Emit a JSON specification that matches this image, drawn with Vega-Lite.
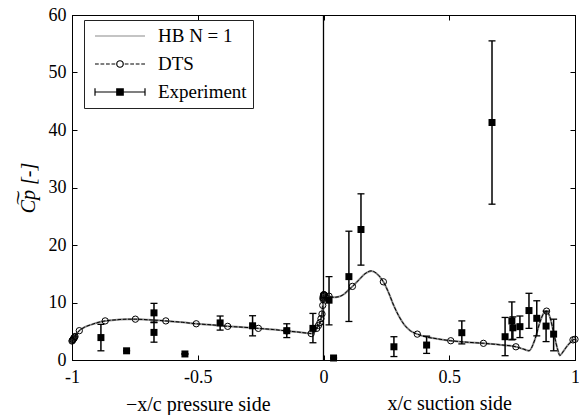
{
  "$schema": "https://vega.github.io/schema/vega-lite/v6.json",
  "width": 503,
  "height": 345,
  "autosize": {"type": "none"},
  "padding": {"left": 72, "top": 15, "right": 4, "bottom": 55},
  "background": "white",
  "config": {
    "font": "'Liberation Serif', 'DejaVu Serif', serif",
    "view": {"stroke": "black", "strokeWidth": 1},
    "axis": {
      "grid": false,
      "domainColor": "black",
      "tickColor": "black",
      "labelColor": "black",
      "titleColor": "black",
      "labelFont": "'Liberation Serif', 'DejaVu Serif', serif",
      "titleFont": "'Liberation Serif', 'DejaVu Serif', serif",
      "labelFontSize": 18,
      "titleFontSize": 20,
      "titleFontWeight": "normal",
      "tickSize": -5,
      "tickWidth": 1
    },
    "legend": {
      "orient": "none",
      "legendX": 12,
      "legendY": 5,
      "padding": 6,
      "strokeColor": "#222222",
      "fillColor": "white",
      "cornerRadius": 0,
      "clipHeight": 20,
      "rowPadding": 8,
      "symbolSize": 2500,
      "symbolStrokeWidth": 1.2,
      "symbolFillColor": "transparent",
      "symbolOffset": 4,
      "labelOffset": 12,
      "labelFont": "'Liberation Serif', 'DejaVu Serif', serif",
      "labelFontSize": 19,
      "labelColor": "black"
    }
  },
  "datasets": {
    "hb": [
      {"x": -1.0, "cp": 3.3}, {"x": -0.995, "cp": 3.5}, {"x": -0.985, "cp": 4.3}, {"x": -0.971, "cp": 5.1},
      {"x": -0.95, "cp": 5.7}, {"x": -0.92, "cp": 6.2}, {"x": -0.89, "cp": 6.6}, {"x": -0.868, "cp": 6.8},
      {"x": -0.82, "cp": 7.0}, {"x": -0.78, "cp": 7.1}, {"x": -0.748, "cp": 7.1}, {"x": -0.7, "cp": 7.0},
      {"x": -0.66, "cp": 6.9}, {"x": -0.627, "cp": 6.8}, {"x": -0.56, "cp": 6.55}, {"x": -0.506, "cp": 6.3},
      {"x": -0.44, "cp": 6.1}, {"x": -0.381, "cp": 5.85}, {"x": -0.32, "cp": 5.7}, {"x": -0.259, "cp": 5.5},
      {"x": -0.2, "cp": 5.3}, {"x": -0.146, "cp": 5.05}, {"x": -0.1, "cp": 4.85}, {"x": -0.06, "cp": 4.65},
      {"x": -0.049, "cp": 4.6}, {"x": -0.035, "cp": 4.9}, {"x": -0.027, "cp": 5.5}, {"x": -0.02, "cp": 6.0},
      {"x": -0.014, "cp": 6.5}, {"x": -0.01, "cp": 7.2}, {"x": -0.006, "cp": 8.0}, {"x": -0.003, "cp": 9.5},
      {"x": -0.001, "cp": 11.0}, {"x": 0.0, "cp": 11.3}, {"x": 0.005, "cp": 11.35}, {"x": 0.012, "cp": 11.3},
      {"x": 0.022, "cp": 11.1}, {"x": 0.04, "cp": 10.9}, {"x": 0.06, "cp": 11.0}, {"x": 0.08, "cp": 11.4},
      {"x": 0.1, "cp": 12.2}, {"x": 0.115, "cp": 12.8}, {"x": 0.14, "cp": 13.9}, {"x": 0.165, "cp": 15.0},
      {"x": 0.19, "cp": 15.5}, {"x": 0.21, "cp": 15.1}, {"x": 0.238, "cp": 13.6}, {"x": 0.26, "cp": 11.6},
      {"x": 0.28, "cp": 9.4}, {"x": 0.3, "cp": 7.6}, {"x": 0.32, "cp": 6.2}, {"x": 0.345, "cp": 5.1},
      {"x": 0.373, "cp": 4.5}, {"x": 0.41, "cp": 4.0}, {"x": 0.45, "cp": 3.7}, {"x": 0.506, "cp": 3.35},
      {"x": 0.57, "cp": 3.1}, {"x": 0.636, "cp": 2.9}, {"x": 0.7, "cp": 2.65}, {"x": 0.765, "cp": 2.3},
      {"x": 0.795, "cp": 1.9}, {"x": 0.817, "cp": 1.6}, {"x": 0.84, "cp": 3.5}, {"x": 0.86, "cp": 6.5},
      {"x": 0.875, "cp": 8.1}, {"x": 0.887, "cp": 8.5}, {"x": 0.9, "cp": 7.5}, {"x": 0.915, "cp": 4.8},
      {"x": 0.93, "cp": 2.0}, {"x": 0.94, "cp": 0.8}, {"x": 0.955, "cp": 1.6}, {"x": 0.97, "cp": 2.5},
      {"x": 0.985, "cp": 3.2}, {"x": 0.992, "cp": 3.5}, {"x": 1.0, "cp": 3.6}
    ],
    "dts": [
      {"x": -1.0, "cp": 3.3}, {"x": -0.995, "cp": 3.5}, {"x": -0.985, "cp": 4.3}, {"x": -0.971, "cp": 5.1},
      {"x": -0.95, "cp": 5.7}, {"x": -0.92, "cp": 6.2}, {"x": -0.89, "cp": 6.6}, {"x": -0.868, "cp": 6.8},
      {"x": -0.82, "cp": 7.0}, {"x": -0.78, "cp": 7.1}, {"x": -0.748, "cp": 7.1}, {"x": -0.7, "cp": 7.0},
      {"x": -0.66, "cp": 6.9}, {"x": -0.627, "cp": 6.8}, {"x": -0.56, "cp": 6.55}, {"x": -0.506, "cp": 6.3},
      {"x": -0.44, "cp": 6.1}, {"x": -0.381, "cp": 5.85}, {"x": -0.32, "cp": 5.7}, {"x": -0.259, "cp": 5.5},
      {"x": -0.2, "cp": 5.3}, {"x": -0.146, "cp": 5.05}, {"x": -0.1, "cp": 4.85}, {"x": -0.06, "cp": 4.65},
      {"x": -0.049, "cp": 4.6}, {"x": -0.035, "cp": 4.9}, {"x": -0.027, "cp": 5.5}, {"x": -0.02, "cp": 6.0},
      {"x": -0.014, "cp": 6.5}, {"x": -0.01, "cp": 7.2}, {"x": -0.006, "cp": 8.0}, {"x": -0.003, "cp": 9.5},
      {"x": -0.001, "cp": 11.0}, {"x": 0.0, "cp": 11.3}, {"x": 0.005, "cp": 11.35}, {"x": 0.012, "cp": 11.3},
      {"x": 0.022, "cp": 11.1}, {"x": 0.04, "cp": 10.9}, {"x": 0.06, "cp": 11.0}, {"x": 0.08, "cp": 11.4},
      {"x": 0.1, "cp": 12.2}, {"x": 0.115, "cp": 12.8}, {"x": 0.14, "cp": 13.9}, {"x": 0.165, "cp": 15.0},
      {"x": 0.19, "cp": 15.5}, {"x": 0.21, "cp": 15.1}, {"x": 0.238, "cp": 13.6}, {"x": 0.26, "cp": 11.6},
      {"x": 0.28, "cp": 9.4}, {"x": 0.3, "cp": 7.6}, {"x": 0.32, "cp": 6.2}, {"x": 0.345, "cp": 5.1},
      {"x": 0.373, "cp": 4.5}, {"x": 0.41, "cp": 4.0}, {"x": 0.45, "cp": 3.7}, {"x": 0.506, "cp": 3.35},
      {"x": 0.57, "cp": 3.1}, {"x": 0.636, "cp": 2.9}, {"x": 0.7, "cp": 2.65}, {"x": 0.765, "cp": 2.3},
      {"x": 0.795, "cp": 1.9}, {"x": 0.817, "cp": 1.6}, {"x": 0.84, "cp": 3.5}, {"x": 0.86, "cp": 6.5},
      {"x": 0.875, "cp": 8.1}, {"x": 0.887, "cp": 8.5}, {"x": 0.9, "cp": 7.5}, {"x": 0.915, "cp": 4.8},
      {"x": 0.93, "cp": 2.0}, {"x": 0.94, "cp": 0.8}, {"x": 0.955, "cp": 1.6}, {"x": 0.97, "cp": 2.5},
      {"x": 0.985, "cp": 3.2}, {"x": 0.992, "cp": 3.5}, {"x": 1.0, "cp": 3.6}
    ],
    "dtsNodes": [
      {"x": -1.0, "cp": 3.3}, {"x": -0.998, "cp": 3.42}, {"x": -0.996, "cp": 3.55}, {"x": -0.994, "cp": 3.68},
      {"x": -0.992, "cp": 3.8}, {"x": -0.99, "cp": 3.95}, {"x": -0.988, "cp": 4.1},
      {"x": -0.971, "cp": 5.1}, {"x": -0.868, "cp": 6.8}, {"x": -0.748, "cp": 7.1}, {"x": -0.627, "cp": 6.8},
      {"x": -0.506, "cp": 6.3}, {"x": -0.381, "cp": 5.85}, {"x": -0.259, "cp": 5.5}, {"x": -0.146, "cp": 5.05},
      {"x": -0.049, "cp": 4.6}, {"x": -0.027, "cp": 5.5}, {"x": -0.02, "cp": 6.0}, {"x": -0.014, "cp": 6.5},
      {"x": -0.01, "cp": 7.2}, {"x": -0.006, "cp": 8.0}, {"x": -0.003, "cp": 9.5},
      {"x": -0.002, "cp": 10.6}, {"x": -0.0015, "cp": 10.8}, {"x": -0.001, "cp": 11.0}, {"x": -0.0005, "cp": 11.15},
      {"x": 0.0, "cp": 11.3}, {"x": 0.001, "cp": 11.35}, {"x": 0.002, "cp": 11.35}, {"x": 0.004, "cp": 11.3},
      {"x": 0.022, "cp": 11.1}, {"x": 0.115, "cp": 12.8}, {"x": 0.238, "cp": 13.6}, {"x": 0.373, "cp": 4.5},
      {"x": 0.506, "cp": 3.35}, {"x": 0.636, "cp": 2.9}, {"x": 0.765, "cp": 2.3}, {"x": 0.887, "cp": 8.5},
      {"x": 0.992, "cp": 3.5}, {"x": 1.0, "cp": 3.6}
    ],
    "exp": [
      {"x": -0.885, "cp": 3.9, "lo": 1.6, "hi": 6.2},
      {"x": -0.783, "cp": 1.6, "lo": 1.6, "hi": 1.6},
      {"x": -0.674, "cp": 8.2, "lo": 6.6, "hi": 9.85},
      {"x": -0.674, "cp": 4.8, "lo": 3.1, "hi": 6.5},
      {"x": -0.551, "cp": 1.05, "lo": 1.05, "hi": 1.05},
      {"x": -0.411, "cp": 6.45, "lo": 5.2, "hi": 7.65},
      {"x": -0.282, "cp": 5.95, "lo": 4.2, "hi": 7.7},
      {"x": -0.146, "cp": 5.1, "lo": 3.9, "hi": 6.3},
      {"x": -0.042, "cp": 5.5, "lo": 3.0, "hi": 8.1},
      {"x": 0.022, "cp": 10.4, "lo": 6.1, "hi": 14.5},
      {"x": 0.04, "cp": 0.35, "lo": 0.35, "hi": 0.35},
      {"x": 0.101, "cp": 14.5, "lo": 6.7, "hi": 22.4},
      {"x": 0.149, "cp": 22.7, "lo": 16.5, "hi": 28.9},
      {"x": 0.28, "cp": 2.3, "lo": 0.6, "hi": 4.05},
      {"x": 0.41, "cp": 2.6, "lo": 1.15, "hi": 4.15},
      {"x": 0.55, "cp": 4.75, "lo": 2.8, "hi": 6.8},
      {"x": 0.67, "cp": 41.3, "lo": 27.1, "hi": 55.5},
      {"x": 0.722, "cp": 4.05, "lo": 0.75, "hi": 7.4},
      {"x": 0.749, "cp": 6.8, "lo": 3.5, "hi": 10.1},
      {"x": 0.753, "cp": 5.6, "lo": 3.6, "hi": 7.5},
      {"x": 0.781, "cp": 5.8, "lo": 3.9, "hi": 7.65},
      {"x": 0.817, "cp": 8.6, "lo": 5.5, "hi": 11.6},
      {"x": 0.848, "cp": 7.25, "lo": 4.2, "hi": 10.3},
      {"x": 0.885, "cp": 5.9, "lo": 3.2, "hi": 8.5},
      {"x": 0.915, "cp": 4.5, "lo": 1.6, "hi": 7.1}
    ],
    "series": [
      {"series": "HB N = 1"},
      {"series": "DTS"},
      {"series": "Experiment"}
    ]
  },
  "resolve": {"axis": {"x": "independent", "y": "independent"}},
  "layer": [
    {
      "data": {"values": [{"x": 0}]},
      "mark": {"type": "rule", "color": "black", "strokeWidth": 1.3},
      "encoding": {
        "x": {"field": "x", "type": "quantitative", "scale": {"domain": [-1, 1], "nice": false, "zero": false}, "axis": null}
      }
    },
    {
      "data": {"name": "hb"},
      "mark": {"type": "line", "color": "#8a8a8a", "strokeWidth": 2, "interpolate": "monotone"},
      "encoding": {
        "x": {
          "field": "x", "type": "quantitative",
          "scale": {"domain": [-1, 1], "nice": false, "zero": false},
          "axis": {
            "orient": "bottom",
            "values": [-1, -0.5, 0, 0.5, 1],
            "labelExpr": "'' + datum.value",
            "labelPadding": 13,
            "labelFlush": false,
            "title": "−x/c pressure side",
            "titleX": 125.75,
            "titleAlign": "center",
            "titleAnchor": null,
            "titlePadding": 8
          }
        },
        "y": {
          "field": "cp", "type": "quantitative",
          "scale": {"domain": [0, 60], "nice": false, "zero": false},
          "axis": {
            "orient": "left",
            "values": [0, 10, 20, 30, 40, 50, 60],
            "labelPadding": 11,
            "title": "C͠p [-]",
            "titleFontStyle": "italic",
            "titlePadding": 10
          }
        }
      }
    },
    {
      "data": {"name": "dts"},
      "mark": {"type": "line", "color": "black", "strokeWidth": 1, "strokeDash": [3.7, 1.6], "interpolate": "monotone"},
      "encoding": {
        "x": {
          "field": "x", "type": "quantitative",
          "scale": {"domain": [-1, 1], "nice": false, "zero": false},
          "axis": {"orient": "top", "values": [-1, -0.5, 0, 0.5, 1], "labels": false, "title": null}
        },
        "y": {
          "field": "cp", "type": "quantitative",
          "scale": {"domain": [0, 60], "nice": false, "zero": false},
          "axis": {"orient": "right", "values": [0, 10, 20, 30, 40, 50, 60], "labels": false, "title": null}
        }
      }
    },
    {
      "data": {"name": "dtsNodes"},
      "mark": {"type": "point", "shape": "circle", "filled": false, "color": "black", "strokeWidth": 1, "size": 40, "opacity": 1},
      "encoding": {
        "x": {"field": "x", "type": "quantitative", "scale": {"domain": [-1, 1], "nice": false, "zero": false}, "axis": null},
        "y": {"field": "cp", "type": "quantitative", "scale": {"domain": [0, 60], "nice": false, "zero": false}, "axis": null}
      }
    },
    {
      "data": {"name": "exp"},
      "mark": {"type": "errorbar", "color": "black", "thickness": 1.5, "opacity": 1, "ticks": {"size": 7, "color": "black", "opacity": 1, "thickness": 1.3}},
      "encoding": {
        "x": {"field": "x", "type": "quantitative", "scale": {"domain": [-1, 1], "nice": false, "zero": false}, "axis": null},
        "y": {"field": "lo", "type": "quantitative", "scale": {"domain": [0, 60], "nice": false, "zero": false}, "axis": null},
        "y2": {"field": "hi"}
      }
    },
    {
      "data": {"name": "exp"},
      "mark": {"type": "square", "color": "black", "filled": true, "size": 49, "opacity": 1},
      "encoding": {
        "x": {
          "field": "x", "type": "quantitative",
          "scale": {"domain": [-1, 1], "nice": false, "zero": false},
          "axis": {
            "orient": "bottom",
            "labels": false,
            "ticks": false,
            "domain": false,
            "title": "x/c suction side",
            "titleX": 377.25,
            "titleAlign": "center",
            "titleAnchor": null,
            "titlePadding": 33
          }
        },
        "y": {"field": "cp", "type": "quantitative", "scale": {"domain": [0, 60], "nice": false, "zero": false}, "axis": null}
      }
    },
    {
      "data": {"name": "series"},
      "mark": {"type": "point", "opacity": 0, "size": 2500, "filled": false},
      "encoding": {
        "shape": {
          "field": "series", "type": "nominal",
          "scale": {
            "domain": ["HB N = 1", "DTS", "Experiment"],
            "range": [
              "M-1,0H1",
              "M-1,0H-0.85M-0.78,0H-0.63M-0.56,0H-0.41M-0.34,0H-0.19M0.19,0H0.34M0.41,0H0.56M0.63,0H0.78M0.85,0H1M-0.13,0A0.13,0.13,0,1,0,0.13,0A0.13,0.13,0,1,0,-0.13,0Z",
              "M-1,0H1M-1,-0.15V0.15M1,-0.15V0.15M-0.13,-0.13H0.13V0.13H-0.13ZM-0.13,-0.09H0.13M-0.13,-0.05H0.13M-0.13,-0.01H0.13M-0.13,0.03H0.13M-0.13,0.07H0.13M-0.13,0.11H0.13"
            ]
          },
          "legend": {"title": null}
        },
        "stroke": {
          "field": "series", "type": "nominal",
          "scale": {"domain": ["HB N = 1", "DTS", "Experiment"], "range": ["#8a8a8a", "black", "black"]},
          "legend": {"title": null}
        }
      }
    }
  ]
}
